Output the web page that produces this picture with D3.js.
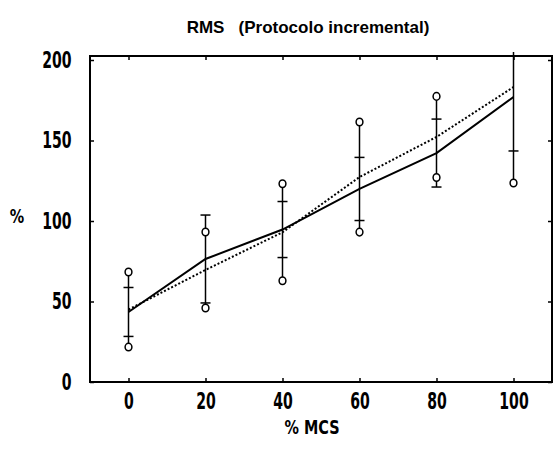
<!DOCTYPE html>
<html>
<head>
<meta charset="utf-8">
<script src="https://cdn.jsdelivr.net/npm/d3@7"></script>
<style>
body { margin:0; background:#fff; }
text { font-family:"Liberation Sans Narrow","DejaVu Sans Condensed","Liberation Sans",sans-serif; font-weight:bold; fill:#000; }
</style>
</head>
<body>
<svg id="chart" width="554" height="450"></svg>
<script>
// % MCS levels
var xValues= [0, 20, 40, 60, 80, 100];

// solid line: mean and SD (short tick marks)
var solidMean= [43.5, 76.4, 94.7, 119.9, 142.2, 177.0];
var solidSD= [15.2, 27.3, 17.4, 19.6, 21.1, 33.5];

// dotted line: mean and SD (open circles)
var dottedMean= [45.0, 69.6, 93.0, 127.3, 152.2, 183.2];
var dottedSD= [23.3, 23.6, 30.1, 34.2, 25.2, 59.6];

var xTicks= [0, 20, 40, 60, 80, 100];
var yTicks= [0, 50, 100, 150, 200];

//plot box (don't call it "top", that one belongs to window)
var boxL= 90, boxR= 552, boxT= 56, boxB= 382;

var svg= d3.select("#chart");

var x= d3.scaleLinear().domain([-10, 110]).range([boxL, boxR]);
var y= d3.scaleLinear().domain([0, 200]).range([boxB, 60]);

svg.append("defs").append("clipPath")
    .attr("id", "clip")
    .append("rect")
    .attr("x", boxL).attr("y", boxT - 4)
    .attr("width", boxR - boxL).attr("height", boxB - boxT + 4);

//Title
svg.append("text")
    .attr("x", 308).attr("y", 33)
    .attr("text-anchor", "middle")
    .style("font-family", "'Liberation Sans',Arial,sans-serif")
    .attr("font-size", 17)
    .attr("xml:space", "preserve")
    .text("RMS   (Protocolo incremental)");

//axes, ticks pointing into the box
var bottomAxis= svg.append("g")
    .attr("transform", "translate(0," + boxB + ")")
    .call(d3.axisBottom(x).tickValues(xTicks).tickSize(-4).tickPadding(11));
var topAxis= svg.append("g")
    .attr("transform", "translate(0," + boxT + ")")
    .call(d3.axisTop(x).tickValues(xTicks).tickSize(-4).tickFormat(""));
var leftAxis= svg.append("g")
    .attr("transform", "translate(" + boxL + ",0)")
    .call(d3.axisLeft(y).tickValues(yTicks).tickSize(-4).tickPadding(27));
var rightAxis= svg.append("g")
    .attr("transform", "translate(" + boxR + ",0)")
    .call(d3.axisRight(y).tickValues(yTicks).tickSize(-4).tickFormat(""));

[bottomAxis, topAxis, leftAxis, rightAxis].forEach(function(a) {
    a.attr("font-family", null).attr("font-size", null);
    a.select(".domain").remove();
    a.selectAll("line").attr("stroke", "#000").attr("stroke-width", 1.5);
    a.selectAll("text")
        .attr("font-size", 23)
        .attr("transform", "scale(0.68,1)");
});

//frame
svg.append("rect")
    .attr("x", boxL).attr("y", boxT)
    .attr("width", boxR - boxL).attr("height", boxB - boxT)
    .attr("fill", "none")
    .attr("stroke", "#000")
    .attr("stroke-width", 2);

var plot= svg.append("g").attr("clip-path", "url(#clip)");

//vertical bars spanning both spreads
xValues.forEach(function(xv, i) {
    var lo= Math.min(solidMean[i] - solidSD[i], dottedMean[i] - dottedSD[i]);
    var hi= Math.max(solidMean[i] + solidSD[i], dottedMean[i] + dottedSD[i]);
    plot.append("line")
        .attr("x1", x(xv)).attr("x2", x(xv))
        .attr("y1", y(lo)).attr("y2", y(hi))
        .attr("stroke", "#000").attr("stroke-width", 1.5);
});

var line= d3.line()
    .x(function(d, i) { return x(xValues[i]); })
    .y(function(d) { return y(d); });

plot.append("path")
    .datum(dottedMean)
    .attr("d", line)
    .attr("fill", "none")
    .attr("stroke", "#000")
    .attr("stroke-width", 2)
    .attr("stroke-dasharray", "2,2");

plot.append("path")
    .datum(solidMean)
    .attr("d", line)
    .attr("fill", "none")
    .attr("stroke", "#000")
    .attr("stroke-width", 2);

//SD tick marks of the solid series
xValues.forEach(function(xv, i) {
    [solidMean[i] - solidSD[i], solidMean[i] + solidSD[i]].forEach(function(v) {
        plot.append("line")
            .attr("x1", x(xv) - 5).attr("x2", x(xv) + 5)
            .attr("y1", y(v)).attr("y2", y(v))
            .attr("stroke", "#000").attr("stroke-width", 1.5);
    });
});

//SD circles of the dotted series
xValues.forEach(function(xv, i) {
    [dottedMean[i] - dottedSD[i], dottedMean[i] + dottedSD[i]].forEach(function(v) {
        plot.append("ellipse")
            .attr("cx", x(xv)).attr("cy", y(v))
            .attr("rx", 3.4).attr("ry", 3.8)
            .attr("fill", "#fff")
            .attr("stroke", "#000").attr("stroke-width", 1.5);
    });
});

//axis titles
svg.append("text")
    .attr("transform", "translate(312,434) scale(0.8,1)")
    .attr("text-anchor", "middle")
    .attr("font-size", 20)
    .text("% MCS");

svg.append("text")
    .attr("transform", "translate(17,216) scale(0.8,1)")
    .attr("text-anchor", "middle")
    .attr("dy", "0.35em")
    .attr("font-size", 20)
    .text("%");
</script>
</body>
</html>
